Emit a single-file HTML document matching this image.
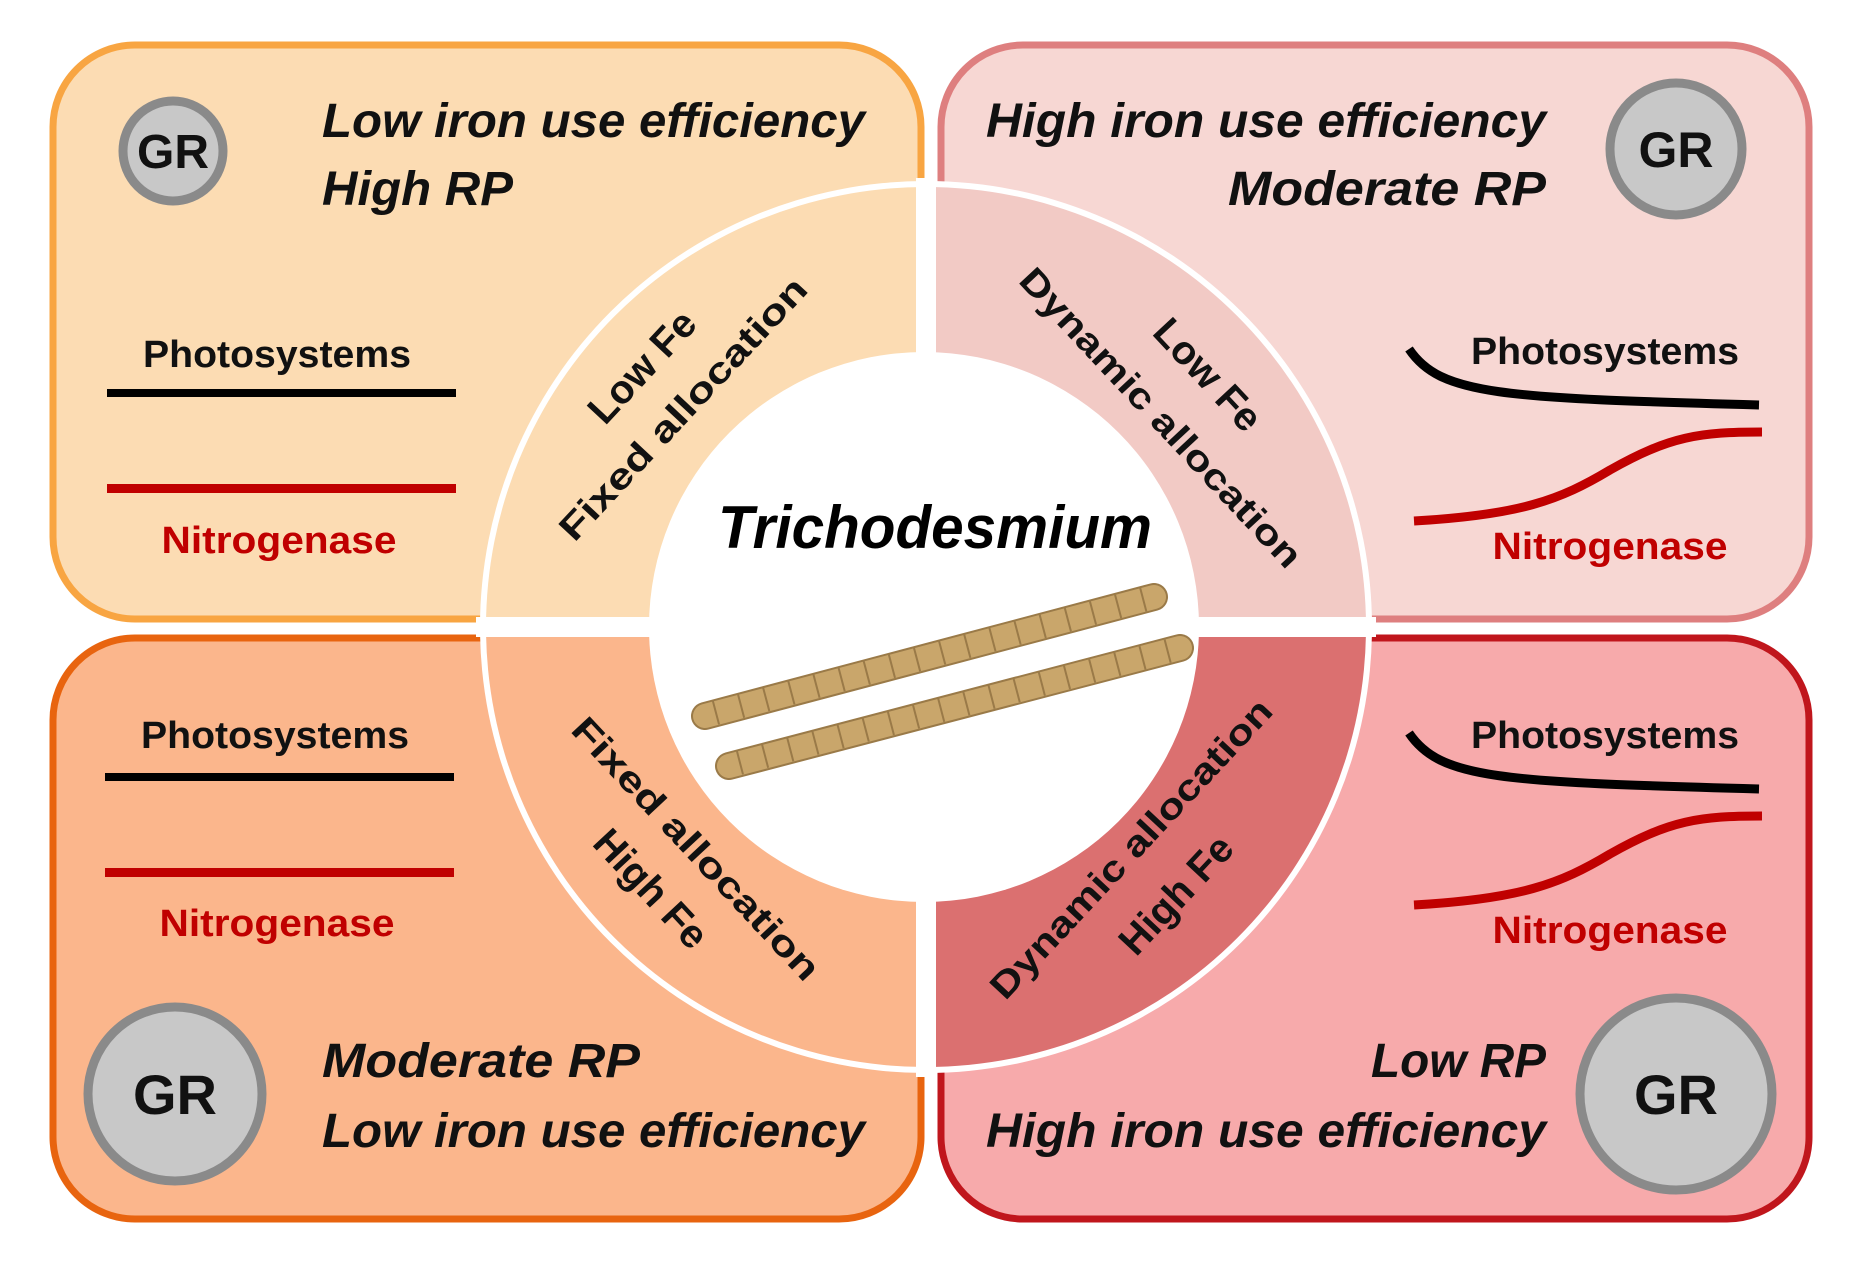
<!DOCTYPE html>
<html><head><meta charset="utf-8"><style>
html,body{margin:0;padding:0;background:#fff}
svg{display:block}
.t{font-family:"Liberation Sans",sans-serif;font-weight:bold}
.i{font-style:italic}
</style></head><body>
<svg width="1860" height="1266" viewBox="0 0 1860 1266" xmlns="http://www.w3.org/2000/svg">
<rect x="53" y="45" width="868" height="574" rx="82" fill="#fcdcb3" stroke="#f8a542" stroke-width="7"/>
<rect x="941" y="45" width="868" height="574" rx="82" fill="#f7d7d3" stroke="#de7f7f" stroke-width="7"/>
<rect x="53" y="638" width="868" height="581" rx="82" fill="#fbb68c" stroke="#e8640f" stroke-width="7"/>
<rect x="941" y="638" width="868" height="581" rx="82" fill="#f7aaab" stroke="#c0161c" stroke-width="7"/>
<circle cx="926" cy="627" r="446" fill="#fff"/>
<path d="M926,627 L926,187 A440,440 0 0 0 486,627 Z" fill="#fcdcb3"/>
<path d="M926,627 L926,187 A440,440 0 0 1 1366,627 Z" fill="#f2cac5"/>
<path d="M926,627 L486,627 A440,440 0 0 0 926,1067 Z" fill="#fbb68c"/>
<path d="M926,627 L1366,627 A440,440 0 0 1 926,1067 Z" fill="#db7070"/>
<rect x="916" y="178" width="20" height="899" fill="#fff"/>
<rect x="476" y="617" width="900" height="20" fill="#fff"/>
<circle cx="924" cy="627" r="275" fill="#fff"/>
<g class="t" font-size="36" fill="#111" text-anchor="middle">
<text transform="translate(652,376) rotate(-47)" font-size="40">Low Fe</text>
<text transform="translate(692,417) rotate(-47)" textLength="345" lengthAdjust="spacingAndGlyphs">Fixed allocation</text>
<text transform="translate(1198,384) rotate(47)" font-size="40">Low Fe</text>
<text transform="translate(1152,426) rotate(47)" textLength="395" lengthAdjust="spacingAndGlyphs">Dynamic allocation</text>
<text transform="translate(687,857) rotate(47)" textLength="345" lengthAdjust="spacingAndGlyphs">Fixed allocation</text>
<text transform="translate(641,898) rotate(47)" font-size="40">High Fe</text>
<text transform="translate(1140,857) rotate(-47)" textLength="395" lengthAdjust="spacingAndGlyphs">Dynamic allocation</text>
<text transform="translate(1186,904) rotate(-47)" font-size="40">High Fe</text>
</g>
<text class="t i" x="935" y="548" font-size="60" text-anchor="middle" textLength="434" lengthAdjust="spacingAndGlyphs" fill="#000">Trichodesmium</text>
<g stroke-linecap="round">
<line x1="705" y1="716" x2="1154" y2="597" stroke="#9a7a48" stroke-width="28"/>
<line x1="705" y1="716" x2="1154" y2="597" stroke="#c9a66b" stroke-width="24"/>
<line x1="715" y1="713" x2="1150" y2="598" stroke="#9a7a48" stroke-width="24" stroke-dasharray="2 24" stroke-linecap="butt"/>
<line x1="729" y1="766" x2="1180" y2="648" stroke="#9a7a48" stroke-width="28"/>
<line x1="729" y1="766" x2="1180" y2="648" stroke="#c9a66b" stroke-width="24"/>
<line x1="739" y1="763" x2="1176" y2="649" stroke="#9a7a48" stroke-width="24" stroke-dasharray="2 24" stroke-linecap="butt"/>
</g>
<g class="t" fill="#111" text-anchor="middle">
<circle cx="173" cy="151" r="50" fill="#c8c8c8" stroke="#8a8a8a" stroke-width="9"/>
<text x="173" y="168" font-size="48">GR</text>
<circle cx="1676" cy="149" r="66" fill="#c8c8c8" stroke="#8a8a8a" stroke-width="9"/>
<text x="1676" y="167" font-size="50">GR</text>
<circle cx="175" cy="1094" r="87" fill="#c8c8c8" stroke="#8a8a8a" stroke-width="9"/>
<text x="175" y="1114" font-size="56">GR</text>
<circle cx="1676" cy="1094" r="96" fill="#c8c8c8" stroke="#8a8a8a" stroke-width="9"/>
<text x="1676" y="1114" font-size="56">GR</text>
</g>
<g class="t i" font-size="48" fill="#111">
<text x="322" y="137" textLength="543" lengthAdjust="spacingAndGlyphs">Low iron use efficiency</text>
<text x="322" y="205" textLength="191" lengthAdjust="spacingAndGlyphs">High RP</text>
<text x="1546" y="137" text-anchor="end" textLength="560" lengthAdjust="spacingAndGlyphs">High iron use efficiency</text>
<text x="1546" y="205" text-anchor="end" textLength="318" lengthAdjust="spacingAndGlyphs">Moderate RP</text>
<text x="322" y="1077" textLength="318" lengthAdjust="spacingAndGlyphs">Moderate RP</text>
<text x="322" y="1147" textLength="543" lengthAdjust="spacingAndGlyphs">Low iron use efficiency</text>
<text x="1546" y="1077" text-anchor="end" textLength="175" lengthAdjust="spacingAndGlyphs">Low RP</text>
<text x="1546" y="1147" text-anchor="end" textLength="560" lengthAdjust="spacingAndGlyphs">High iron use efficiency</text>
</g>
<g class="t" font-size="38" text-anchor="middle">
<text x="277" y="367" fill="#111" textLength="268" lengthAdjust="spacingAndGlyphs">Photosystems</text>
<text x="279" y="553" fill="#c00000" textLength="235" lengthAdjust="spacingAndGlyphs">Nitrogenase</text>
<text x="275" y="748" fill="#111" textLength="268" lengthAdjust="spacingAndGlyphs">Photosystems</text>
<text x="277" y="936" fill="#c00000" textLength="235" lengthAdjust="spacingAndGlyphs">Nitrogenase</text>
<text x="1605" y="364" fill="#111" textLength="268" lengthAdjust="spacingAndGlyphs">Photosystems</text>
<text x="1610" y="559" fill="#c00000" textLength="235" lengthAdjust="spacingAndGlyphs">Nitrogenase</text>
<text x="1605" y="748" fill="#111" textLength="268" lengthAdjust="spacingAndGlyphs">Photosystems</text>
<text x="1610" y="943" fill="#c00000" textLength="235" lengthAdjust="spacingAndGlyphs">Nitrogenase</text>
</g>
<rect x="107" y="389" width="349" height="8" fill="#000"/>
<rect x="107" y="484" width="349" height="9" fill="#c00000"/>
<rect x="105" y="773" width="349" height="8" fill="#000"/>
<rect x="105" y="868" width="349" height="9" fill="#c00000"/>
<g fill="none" stroke-width="9">
<path d="M1409,349 C1440,395 1500,398 1759,405" stroke="#000"/>
<path d="M1414,521 C1520,515 1560,500 1610,470 C1670,436 1700,432 1762,432" stroke="#c00000"/>
<path d="M1409,733 C1440,779 1500,782 1759,789" stroke="#000"/>
<path d="M1414,905 C1520,899 1560,884 1610,854 C1670,820 1700,816 1762,816" stroke="#c00000"/>
</g>
</svg>
</body></html>
